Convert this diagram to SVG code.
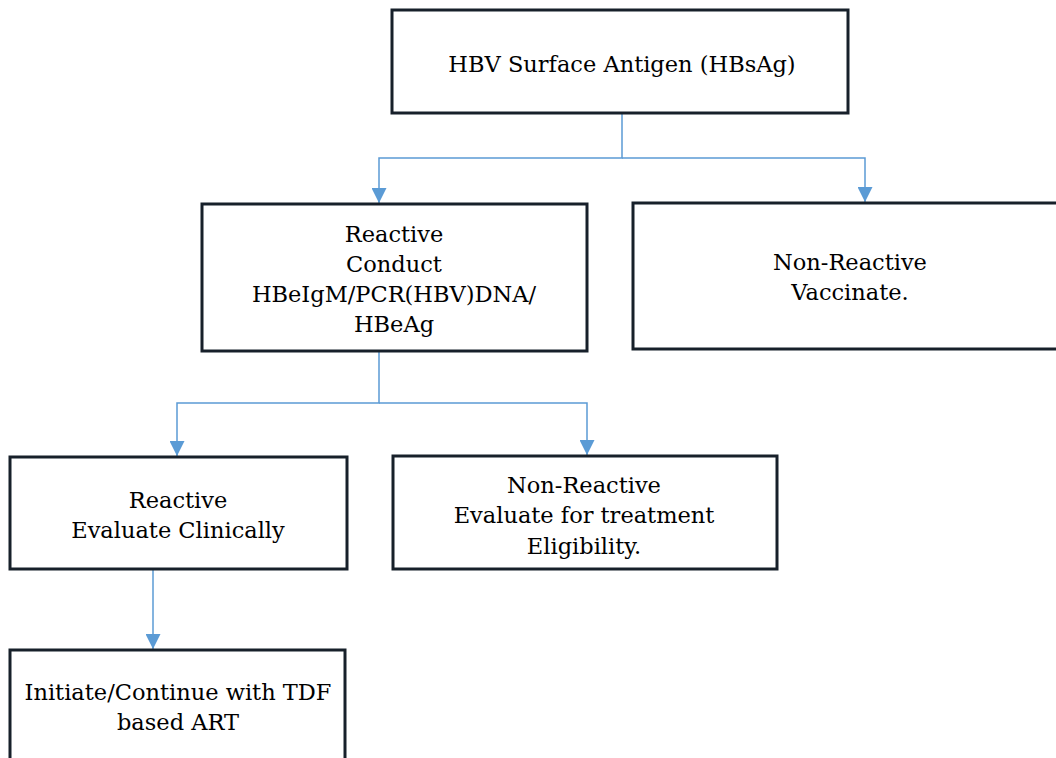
<svg xmlns="http://www.w3.org/2000/svg" width="1056" height="758" viewBox="0 0 1056 758">
  <style>
    .box { fill: #ffffff; stroke: #17202a; stroke-width: 3; }
    .lbl { font-family: "DejaVu Serif", serif; font-size: 22.5px; fill: #000000; text-anchor: middle; }
    .link { fill: none; stroke: #5b9bd5; stroke-width: 1.5; }
  </style>
  <defs>
    <marker id="arrow" markerUnits="userSpaceOnUse" markerWidth="15" markerHeight="15" viewBox="0 0 15 15" refX="15" refY="7.5" orient="auto">
      <path d="M0,0 L15,7.5 L0,15 Z" fill="#5b9bd5"/>
    </marker>
  </defs>

  <rect width="1056" height="758" fill="#ffffff"/>

  <!-- connectors -->
  <g id="connectors">
    <path class="link" d="M622,113 V158 H379 V203" marker-end="url(#arrow)"/>
    <path class="link" d="M622,158 H865 V202" marker-end="url(#arrow)"/>
    <path class="link" d="M379,351 V403 H177 V456" marker-end="url(#arrow)"/>
    <path class="link" d="M379,403 H587 V455" marker-end="url(#arrow)"/>
    <path class="link" d="M153,569 V649" marker-end="url(#arrow)"/>
  </g>

  <g id="hbsag">
    <rect class="box" x="392" y="10" width="456" height="103"/>
    <text class="lbl" x="622" y="72">HBV Surface Antigen (HBsAg)</text>
  </g>

  <g id="reactive-conduct">
    <rect class="box" x="202" y="204" width="385" height="147"/>
    <text class="lbl" x="394" y="242">Reactive</text>
    <text class="lbl" x="394" y="272">Conduct</text>
    <text class="lbl" x="394" y="302">HBeIgM/PCR(HBV)DNA/</text>
    <text class="lbl" x="394" y="332">HBeAg</text>
  </g>

  <g id="nonreactive-vaccinate">
    <rect class="box" x="633" y="203" width="434" height="146"/>
    <text class="lbl" x="850" y="270">Non-Reactive</text>
    <text class="lbl" x="850" y="300">Vaccinate.</text>
  </g>

  <g id="reactive-evaluate">
    <rect class="box" x="10" y="457" width="337" height="112"/>
    <text class="lbl" x="178" y="508">Reactive</text>
    <text class="lbl" x="178" y="538">Evaluate Clinically</text>
  </g>

  <g id="nonreactive-eligibility">
    <rect class="box" x="393" y="456" width="384" height="113"/>
    <text class="lbl" x="584" y="493">Non-Reactive</text>
    <text class="lbl" x="584" y="523">Evaluate for treatment</text>
    <text class="lbl" x="584" y="554">Eligibility.</text>
  </g>

  <g id="initiate-art">
    <rect class="box" x="10" y="650" width="335" height="130"/>
    <text class="lbl" x="178" y="700">Initiate/Continue with TDF</text>
    <text class="lbl" x="178" y="730">based ART</text>
  </g>
</svg>
